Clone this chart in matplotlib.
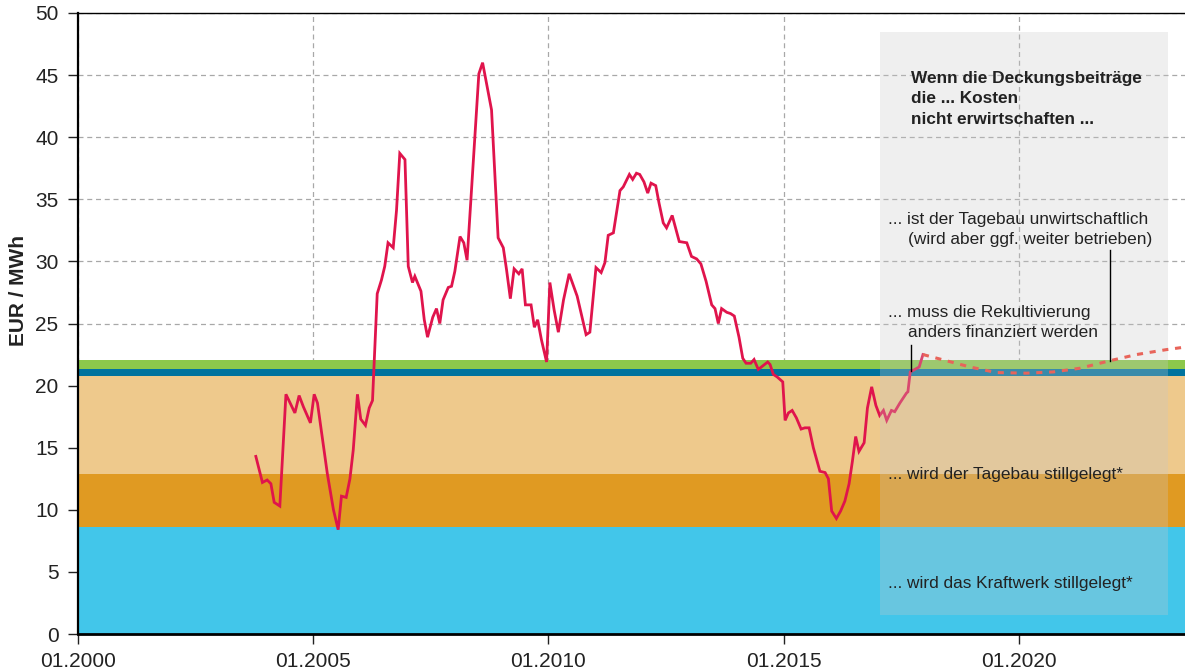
import matplotlib
matplotlib.use("Agg")
import matplotlib.pyplot as plt

plt.rcParams['font.family'] = ['Liberation Sans', 'DejaVu Sans']

# ---- data -------------------------------------------------------------
years = [2003.78, 2003.92, 2004.02, 2004.10, 2004.17, 2004.29, 2004.42, 2004.61,
         2004.70, 2004.79, 2004.94, 2005.02, 2005.09, 2005.30, 2005.43, 2005.53,
         2005.60, 2005.70, 2005.78, 2005.85, 2005.94, 2006.01, 2006.11, 2006.19,
         2006.26, 2006.36, 2006.45, 2006.52, 2006.59, 2006.70, 2006.77, 2006.84,
         2006.95, 2007.02, 2007.11, 2007.16, 2007.29, 2007.36, 2007.43, 2007.54,
         2007.62, 2007.69, 2007.76, 2007.87, 2007.94, 2008.01, 2008.12, 2008.20,
         2008.27, 2008.52, 2008.60, 2008.79, 2008.93, 2009.04, 2009.11, 2009.19,
         2009.27, 2009.37, 2009.44, 2009.51, 2009.63, 2009.70, 2009.77, 2009.85,
         2009.96, 2010.03, 2010.12, 2010.21, 2010.32, 2010.44, 2010.61, 2010.80,
         2010.88, 2011.01, 2011.12, 2011.20, 2011.27, 2011.38, 2011.52, 2011.59,
         2011.72, 2011.79, 2011.87, 2011.94, 2012.03, 2012.11, 2012.18, 2012.28,
         2012.35, 2012.44, 2012.51, 2012.63, 2012.78, 2012.94, 2013.04, 2013.15,
         2013.24, 2013.35, 2013.47, 2013.54, 2013.61, 2013.68, 2013.79, 2013.87,
         2013.95, 2014.05, 2014.13, 2014.20, 2014.30, 2014.37, 2014.46, 2014.56,
         2014.66, 2014.71, 2014.78, 2014.86, 2014.98, 2015.03, 2015.10, 2015.18,
         2015.27, 2015.37, 2015.45, 2015.54, 2015.63, 2015.77, 2015.88, 2015.95,
         2016.02, 2016.12, 2016.21, 2016.30, 2016.39, 2016.46, 2016.53, 2016.60,
         2016.71, 2016.78, 2016.87, 2016.96, 2017.04, 2017.12, 2017.19, 2017.29,
         2017.36, 2017.47, 2017.61, 2017.64, 2017.69, 2017.88, 2017.96]
values = [14.3, 12.2, 12.4, 12.1, 10.6, 10.3, 19.3, 17.8,
          19.2, 18.3, 17.0, 19.3, 18.6, 12.9, 10.0, 8.4,
          11.1, 11.0, 12.5, 14.8, 19.3, 17.3, 16.8, 18.2,
          18.8, 27.4, 28.5, 29.6, 31.5, 31.1, 34.1, 38.7,
          38.2, 29.6, 28.3, 28.8, 27.6, 25.3, 23.9, 25.5,
          26.2, 25.0, 26.9, 27.9, 28.0, 29.2, 32.0, 31.5,
          30.1, 45.1, 46.0, 42.2, 31.9, 31.1, 29.3, 27.0,
          29.4, 29.0, 29.4, 26.5, 26.5, 24.7, 25.3, 23.7,
          21.9, 28.3, 26.1, 24.3, 26.9, 29.0, 27.2, 24.1,
          24.3, 29.5, 29.1, 29.9, 32.1, 32.3, 35.7, 36.0,
          37.0, 36.6, 37.1, 37.0, 36.4, 35.5, 36.3, 36.1,
          34.7, 33.1, 32.7, 33.7, 31.6, 31.5, 30.4, 30.2,
          29.8, 28.4, 26.5, 26.2, 25.0, 26.2, 25.9, 25.8,
          25.6, 23.9, 22.2, 21.8, 21.8, 22.1, 21.3, 21.6,
          21.9, 21.7, 20.9, 20.7, 20.3, 17.2, 17.8, 18.0,
          17.4, 16.5, 16.6, 16.6, 15.0, 13.1, 13.0, 12.5,
          9.9, 9.3, 9.9, 10.7, 12.1, 13.9, 15.9, 14.7,
          15.4, 18.2, 19.9, 18.4, 17.6, 18.0, 17.2, 18.0,
          17.9, 18.6, 19.4, 19.5, 21.1, 21.5, 22.5]

forecast_years = [2017.96, 2018.46, 2018.96, 2019.52, 2020.16, 2020.73,
                  2021.30, 2021.93, 2022.50, 2023.14, 2023.53]
forecast_values = [22.5, 22.0, 21.5, 21.05, 21.0, 21.1, 21.4, 22.0, 22.5, 22.9, 23.1]

# cost bands (lower, upper, colour)
band_edges = [0.0, 8.6, 12.9, 20.8, 21.35, 22.05]
band_colors = ['#42c6ea', '#e09a22', '#eec98c', '#00739e', '#8cc84b']

tick_years = [2000, 2005, 2010, 2015, 2020]
tick_labels = ['01.2000', '01.2005', '01.2010', '01.2015', '01.2020']
y_ticks = [0, 5, 10, 15, 20, 25, 30, 35, 40, 45, 50]

heading = ['Wenn die Deckungsbeiträge', 'die ... Kosten', 'nicht erwirtschaften ...']
notes = [
    ('... ist der Tagebau unwirtschaftlich', 2017.22, 33.0),
    ('(wird aber ggf. weiter betrieben)', 2017.65, 31.4),
    ('... muss die Rekultivierung', 2017.22, 25.5),
    ('anders finanziert werden', 2017.65, 23.89),
    ('... wird der Tagebau stillgelegt*', 2017.22, 12.48),
    ('... wird das Kraftwerk stillgelegt*', 2017.22, 3.73),
]

# ---- figure -----------------------------------------------------------
fig = plt.figure(figsize=(11.85, 6.72), dpi=100)
ax = fig.add_axes([78/1185, 38/672, 1107/1185, 621/672])

xmin, xmax = 2000.0, 2023.53
ax.set_xlim(xmin, xmax)
ax.set_ylim(0, 50)

ax.set_axisbelow(True)
ax.grid(True, color='#a8a8a8', linestyle=(0, (4, 3)), linewidth=0.9)

for lo, hi, c in zip(band_edges[:-1], band_edges[1:], band_colors):
    ax.axhspan(lo, hi, color=c, lw=0, zorder=1)

ax.plot(years, values, color='#e0144c', lw=2.0, zorder=2, solid_joinstyle='miter')

# grey overlay box
ax.add_patch(plt.Rectangle((2017.05, 1.5), 6.12, 46.97, facecolor='#c8c8c8',
                           alpha=0.29, lw=0, zorder=3))

ax.plot(forecast_years, forecast_values, color='#e8645a', lw=2.2,
        linestyle=(0, (2, 2.2)), zorder=4)

# leader lines
ax.plot([2017.70, 2017.70], [23.3, 21.2], color='black', lw=1.0, zorder=5)
ax.plot([2021.93, 2021.93], [30.9, 22.0], color='black', lw=1.0, zorder=5)

for i, line in enumerate(heading):
    ax.text(2017.70, [44.39, 42.73, 41.06][i], line, fontsize=12.4,
            fontweight='bold', color='#222222', va='baseline', ha='left', zorder=6)
for txt, x, y in notes:
    ax.text(x, y, txt, fontsize=12.4, color='#222222', va='baseline',
            ha='left', zorder=6)

ax.set_xticks(tick_years)
ax.set_xticklabels(tick_labels)
ax.set_yticks(y_ticks)
ax.tick_params(axis='both', labelsize=15, colors='#222222', length=7, width=1)
ax.tick_params(axis='y', pad=7)
ax.tick_params(axis='x', pad=6)

ax.spines['right'].set_visible(False)
ax.spines['top'].set_linewidth(1.0)
ax.spines['left'].set_linewidth(1.6)
ax.spines['bottom'].set_linewidth(2.0)
for s in ['top', 'left', 'bottom']:
    ax.spines[s].set_zorder(7)

fig.text(19/1185, 1 - 290/672, 'EUR / MWh', rotation=90, ha='center',
         va='center', fontsize=15, fontweight='bold', color='#222222')

fig.savefig('out.png', dpi=100)
